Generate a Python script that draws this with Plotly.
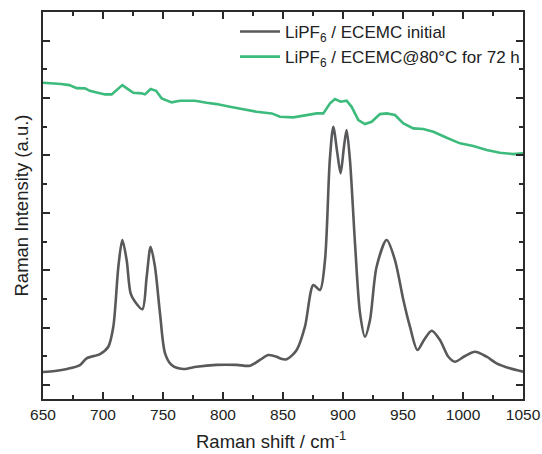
import plotly.graph_objects as go

# Raman shift (cm^-1) and intensity (offset, arbitrary units) for the fresh electrolyte
shift_initial = [650, 660, 670, 680.8, 686.4, 697.5, 704.4, 708.6, 712.8, 716.1, 719.7, 723, 726.7,
                 732.8, 736.4, 739.7, 743.3, 747.5, 751.7, 757.2, 766.9, 778, 794.7, 811.4, 822.5,
                 830.8, 837.8, 844.7, 847.5, 853, 861.4, 868.3, 875.3, 880.8, 885, 889, 891.9,
                 895.3, 898, 900.8, 903, 905.8, 910, 914.2, 918.3, 922.5, 928, 936.4, 943.3,
                 950.3, 955.8, 962, 967.5, 973.9, 980.8, 987.8, 993.3, 1001.7, 1010, 1019.7,
                 1028, 1039, 1050]
intensity_initial = [0.226, 0.244, 0.279, 0.348, 0.465, 0.540, 0.667, 1.016, 2.061, 2.526, 2.178,
                     1.598, 1.451, 1.319, 1.887, 2.409, 2.061, 1.249, 0.552, 0.348, 0.279, 0.319,
                     0.350, 0.350, 0.336, 0.436, 0.523, 0.493, 0.465, 0.448, 0.610, 1.016, 1.742,
                     1.655, 2.178, 3.920, 4.500, 4.037, 3.688, 4.152, 4.443, 3.920, 2.469, 1.249,
                     0.841, 1.132, 2.061, 2.526, 2.178, 1.481, 1.016, 0.610, 0.784, 0.946, 0.784,
                     0.493, 0.406, 0.505, 0.580, 0.493, 0.378, 0.291, 0.232]

# Same electrolyte after storage at 80 °C for 72 h
shift_aged = [650, 658, 665, 672, 678, 685, 689, 694.7, 701.7, 707.2, 711.4, 716.1, 721.1, 725.3,
              732.2, 735, 739.7, 744.2, 748.9, 753, 757.2, 764.2, 776.7, 786.4, 794.7, 805.8,
              816.9, 828, 840.6, 847.5, 858.6, 869.8, 878.1, 883.6, 889.2, 893.3, 898, 903,
              907.2, 912.8, 918.3, 923.9, 930.8, 936.4, 943.3, 950.3, 958.6, 966.9, 975.3,
              986.4, 997.5, 1008.6, 1019.7, 1030.8, 1041.9, 1050]
intensity_aged = [5.267, 5.261, 5.244, 5.226, 5.174, 5.169, 5.127, 5.099, 5.064, 5.064, 5.139,
                  5.226, 5.152, 5.092, 5.082, 5.064, 5.157, 5.127, 4.995, 4.965, 4.925, 4.953,
                  4.953, 4.918, 4.895, 4.848, 4.808, 4.761, 4.733, 4.674, 4.664, 4.704, 4.733,
                  4.733, 4.908, 4.983, 4.936, 4.953, 4.848, 4.617, 4.547, 4.587, 4.721, 4.733,
                  4.704, 4.559, 4.472, 4.460, 4.413, 4.308, 4.211, 4.164, 4.094, 4.047, 4.024,
                  4.037]

label_initial = "LiPF<sub>6</sub> / ECEMC initial"
label_aged = "LiPF<sub>6</sub> / ECEMC@80°C for 72 h"
x_title = "Raman shift / cm<sup>-1</sup>"
y_title = "Raman Intensity (a.u.)"

x_ticks = [650, 700, 750, 800, 850, 900, 950, 1000, 1050]

FONT = "Liberation Sans, Arial, sans-serif"
AXIS = "#2b2b2b"
TEXT = "#222"

fig = go.Figure()
fig.add_trace(go.Scatter(
    x=shift_initial, y=intensity_initial, mode="lines", name=label_initial,
    legendgroup="a", line=dict(color="#58595b", width=2.6, shape="spline", smoothing=0.8),
))
fig.add_trace(go.Scatter(
    x=shift_aged, y=intensity_aged, mode="lines", name=label_aged,
    legendgroup="b", line=dict(color="#3dbb7c", width=2.6),
))

fig.update_layout(
    width=542, height=454,
    margin=dict(l=43, r=19, t=12, b=55),
    paper_bgcolor="white", plot_bgcolor="white",
    font=dict(family=FONT, size=15, color=TEXT),
    legend=dict(
        x=0.40, y=0.995, xanchor="left", yanchor="top",
        bgcolor="rgba(0,0,0,0)", borderwidth=0,
        font=dict(family=FONT, size=17, color=TEXT),
        traceorder="grouped", tracegroupgap=0, itemwidth=40,
    ),
    showlegend=True,
    annotations=[dict(
        text=x_title, xref="paper", yref="paper", x=0.476, y=-0.106,
        xanchor="center", yanchor="middle", showarrow=False,
        font=dict(family=FONT, size=18.5, color=TEXT),
    )],
)

fig.update_xaxes(
    range=[650, 1050], tickvals=x_ticks, ticktext=[str(v) for v in x_ticks],
    ticks="inside", ticklen=7, tickwidth=1.5, tickcolor=AXIS,
    minor=dict(dtick=25, tick0=650, ticks="inside", ticklen=4, tickwidth=1.5, tickcolor=AXIS),
    showline=True, linewidth=1.8, linecolor=AXIS, mirror="ticks",
    showgrid=False, zeroline=False, automargin=False,
    tickfont=dict(family=FONT, size=15.5, color=TEXT),
)
fig.update_yaxes(
    range=[-0.244, 6.5], tick0=0, dtick=1, showticklabels=False,
    ticks="inside", ticklen=7, tickwidth=1.5, tickcolor=AXIS,
    minor=dict(dtick=0.5, tick0=0, ticks="inside", ticklen=4, tickwidth=1.5, tickcolor=AXIS),
    showline=True, linewidth=1.8, linecolor=AXIS, mirror="ticks",
    showgrid=False, zeroline=False, automargin=False,
    title=dict(text=y_title, font=dict(family=FONT, size=18.5, color=TEXT), standoff=8),
)

fig.write_html("out.html")
